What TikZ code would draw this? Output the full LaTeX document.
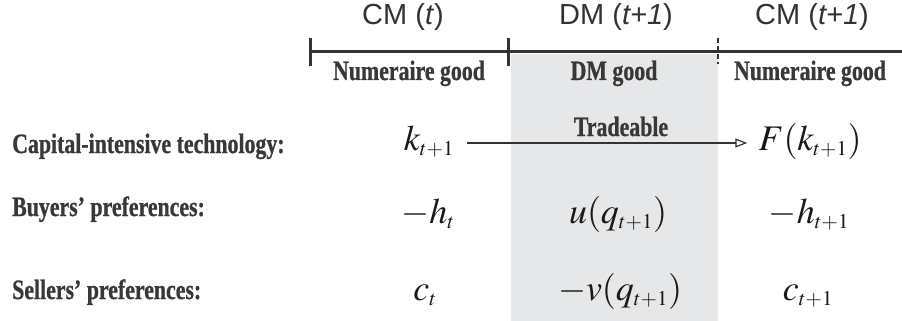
\documentclass[tikz,border=0pt]{standalone}
\usepackage{mathptmx}
\usepackage[no-math]{fontspec}
\setmainfont{Liberation Serif}
\newfontfamily\hdrfont{Liberation Sans}
\newfontfamily\labfont[FakeStretch=0.78,BoldFeatures={FakeBold=0.8}]{Liberation Serif}
\DeclareMathSizes{36}{36}{21}{15}
\usetikzlibrary{arrows.meta}
\definecolor{ink}{HTML}{333333}
\definecolor{lab}{HTML}{383838}
\definecolor{dmgray}{HTML}{E6E7E9}
\begin{document}
\begin{tikzpicture}[x=1pt,y=-1pt,
  hdr/.style={anchor=base,inner sep=0pt,text=ink,font=\hdrfont\fontsize{29}{29}\selectfont},
  lbl/.style={anchor=base west,inner sep=0pt,text=lab,font=\labfont\bfseries\fontsize{28}{28}\selectfont},
  sub/.style={anchor=base,inner sep=0pt,text=lab,font=\labfont\bfseries\fontsize{28}{28}\selectfont},
  mth/.style={anchor=base,inner sep=0pt,text=black!90,font=\fontsize{36}{36}\selectfont},
  axis/.style={draw=ink,line width=3pt},
  arr/.style={draw=ink,line width=1.6pt,-{Triangle[open,length=12pt,width=9pt,line width=1.2pt]}}]
\useasboundingbox (0,0) rectangle (902,321);
\fill[dmgray] (511,54) rectangle (718,321);
% axis
\coordinate (l0) at (310,52);
\coordinate (l1) at (902,52);
\draw[axis] (l0) -- (l1);
\draw[axis] (310,38) -- (310,66);
\draw[axis] (508,38) -- (508,66);
\draw[draw=ink,line width=2pt,dash pattern=on 5pt off 3pt] (718,38) -- (718,64);
% headers
\node[hdr] (h1) at (403,25) {CM (\textit{t})};
\node[hdr] (h2) at (616,25) {DM (\textit{t+1})};
\node[hdr] (h3) at (812,25) {CM (\textit{t+1})};
\node[sub] (s1) at (409,80) {Numeraire good};
\node[sub] (s2) at (614,80) {DM good};
\node[sub] (s3) at (810,80) {Numeraire good};
% row labels
\node[lbl] (r1) at (12,153) {Capital-intensive technology:};
\node[lbl] (r2) at (12,216) {Buyers’ preferences:};
\node[lbl] (r3) at (12,299) {Sellers’ preferences:};
% math
\node[mth] (k) at (429,150) {$k_{t+1}$};
\node[mth] (ht) at (428,223) {$-h_{t}$};
\node[mth] (ct) at (425,300) {$c_{t}$};
\node[mth] (u) at (618,223) {$u(q_{t+1})$};
\node[mth] (v) at (620,300) {$-v(q_{t+1})$};
\node[mth] (F) at (810,150) {$F(k_{t+1})$};
\node[mth] (h1b) at (809,223) {$-h_{t+1}$};
\node[mth] (c1) at (808,300) {$c_{t+1}$};
\node[sub] (tr) at (621,136) {Tradeable};
\draw[arr,shorten <=13pt,shorten >=11pt] (k.east |- 0,143) -- (F.west |- 0,143);
\end{tikzpicture}
\end{document}
